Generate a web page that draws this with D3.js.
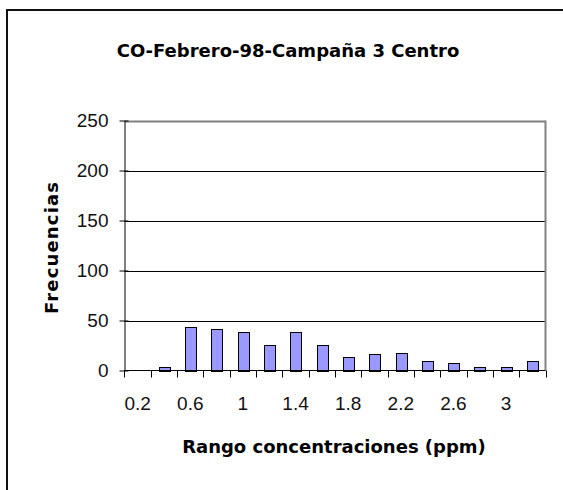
<!DOCTYPE html>
<html>
<head>
<meta charset="utf-8">
<script src="https://cdn.jsdelivr.net/npm/d3@7"></script>
<style>
  html, body { margin: 0; background: #fff; overflow: hidden; }
  svg { display: block; overflow: hidden; }
</style>
</head>
<body>
<div id="chart"></div>
<script>
//chart values
var categories = ["0.2", "0.4", "0.6", "0.8", "1", "1.2", "1.4", "1.6", "1.8", "2", "2.2", "2.4", "2.6", "2.8", "3", "3.2"];
var frequencies = [0, 4, 44, 42, 38, 26, 38, 26, 14, 16, 18, 10, 8, 4, 4, 10];
var xTickLabels = ["0.2", "0.6", "1", "1.4", "1.8", "2.2", "2.6", "3"];
var yTicks = [0, 50, 100, 150, 200, 250];

var chartTitle = "CO-Febrero-98-Campaña 3 Centro";
var xTitle = "Rango concentraciones (ppm)";
var yTitle = "Frecuencias";

//dimensions of the page and plot area
var width = 563;
var height = 490;
var plot = { left: 124.5, right: 545.5, top: 120.5, bottom: 370.5 };

var boldFont = "'DejaVu Sans', sans-serif";
var tickFont = "'Liberation Sans', Arial, sans-serif";

var svg = d3.select("#chart")
  .append("svg")
  .attr("width", width)
  .attr("height", height);

//outer frame of the chart (cut by the picture on the right and bottom)
svg.append("path")
  .attr("d", "M7," + height + "V10H" + width)
  .style("fill", "none")
  .style("stroke", "#111")
  .style("stroke-width", 2);

var x = d3.scaleBand()
  .domain(categories)
  .range([plot.left, plot.right])
  .paddingInner(0.6)
  .paddingOuter(0.3);

var y = d3.scaleLinear()
  .domain([0, 250])
  .range([plot.bottom, plot.top]);

var step = x.step();

//gridlines, the top one is the grey border of the plot area
svg.selectAll("line.grid")
  .data(yTicks.slice(1))
  .enter()
  .append("line")
    .attr("class", "grid")
    .attr("x1", plot.left)
    .attr("x2", plot.right)
    .attr("y1", function(d) { return Math.round(y(d)) + 0.5; })
    .attr("y2", function(d) { return Math.round(y(d)) + 0.5; })
    .style("stroke", function(d) { return d == 250 ? "#808080" : "black"; })
    .style("stroke-width", function(d) { return d == 250 ? 2 : 1; });

//right border of the plot area
svg.append("line")
  .attr("x1", plot.right)
  .attr("x2", plot.right)
  .attr("y1", plot.top)
  .attr("y2", plot.bottom)
  .style("stroke", "#808080")
  .style("stroke-width", 2);

//bars
svg.selectAll("rect.bar")
  .data(frequencies)
  .enter()
  .append("rect")
    .attr("class", "bar")
    .attr("x", function(d, i) { return Math.round(x(categories[i])) + 0.5; })
    .attr("y", function(d) { return Math.round(y(d)) + 0.5; })
    .attr("width", Math.round(x.bandwidth()))
    .attr("height", function(d) { return Math.round(y(0)) - Math.round(y(d)); })
    .style("display", function(d) { return d > 0 ? null : "none"; })
    .style("fill", "#9999ff")
    .style("stroke", "black")
    .style("stroke-width", 1);

//y axis with crossing ticks
var yAxis = d3.axisLeft(y)
  .tickValues(yTicks)
  .tickSizeInner(5)
  .tickSizeOuter(0)
  .tickPadding(11);

var gy = svg.append("g")
  .attr("transform", "translate(" + plot.left + ",0)")
  .call(yAxis);

gy.select(".domain").style("stroke", "black");
gy.selectAll(".tick line")
  .attr("x1", 4)
  .style("stroke", "black");
gy.selectAll(".tick text")
  .attr("dy", "0.3em")
  .style("font-family", tickFont)
  .style("font-size", "19px")
  .style("fill", "#111");

//x axis: ticks between categories, every other label
var boundaries = categories.map(function(c) { return x(c) + x.bandwidth() / 2 - step / 2; });
boundaries.push(plot.right);

svg.append("line")
  .attr("x1", plot.left)
  .attr("x2", plot.right)
  .attr("y1", plot.bottom)
  .attr("y2", plot.bottom)
  .style("stroke", "black");

svg.selectAll("line.xtick")
  .data(boundaries)
  .enter()
  .append("line")
    .attr("class", "xtick")
    .attr("x1", function(d) { return Math.round(d) + 0.5; })
    .attr("x2", function(d) { return Math.round(d) + 0.5; })
    .attr("y1", plot.bottom)
    .attr("y2", plot.bottom + 7)
    .style("stroke", "black");

svg.selectAll("text.xlabel")
  .data(xTickLabels)
  .enter()
  .append("text")
    .attr("class", "xlabel")
    .attr("x", function(d) { return x(d) + x.bandwidth() / 2; })
    .attr("y", 410)
    .attr("text-anchor", "middle")
    .style("font-family", tickFont)
    .style("font-size", "19px")
    .style("fill", "#111")
    .text(function(d) { return d; });

//titles
svg.append("text")
  .attr("x", 288)
  .attr("y", 56.5)
  .attr("text-anchor", "middle")
  .style("font-family", boldFont)
  .style("font-weight", "bold")
  .style("font-size", "18px")
  .text(chartTitle);

svg.append("text")
  .attr("x", 334)
  .attr("y", 453)
  .attr("text-anchor", "middle")
  .style("font-family", boldFont)
  .style("font-weight", "bold")
  .style("font-size", "18px")
  .text(xTitle);

svg.append("text")
  .attr("transform", "translate(57.5,248) rotate(-90)")
  .attr("text-anchor", "middle")
  .attr("textLength", 132)
  .attr("lengthAdjust", "spacing")
  .style("font-family", boldFont)
  .style("font-weight", "bold")
  .style("font-size", "18px")
  .text(yTitle);
</script>
</body>
</html>
